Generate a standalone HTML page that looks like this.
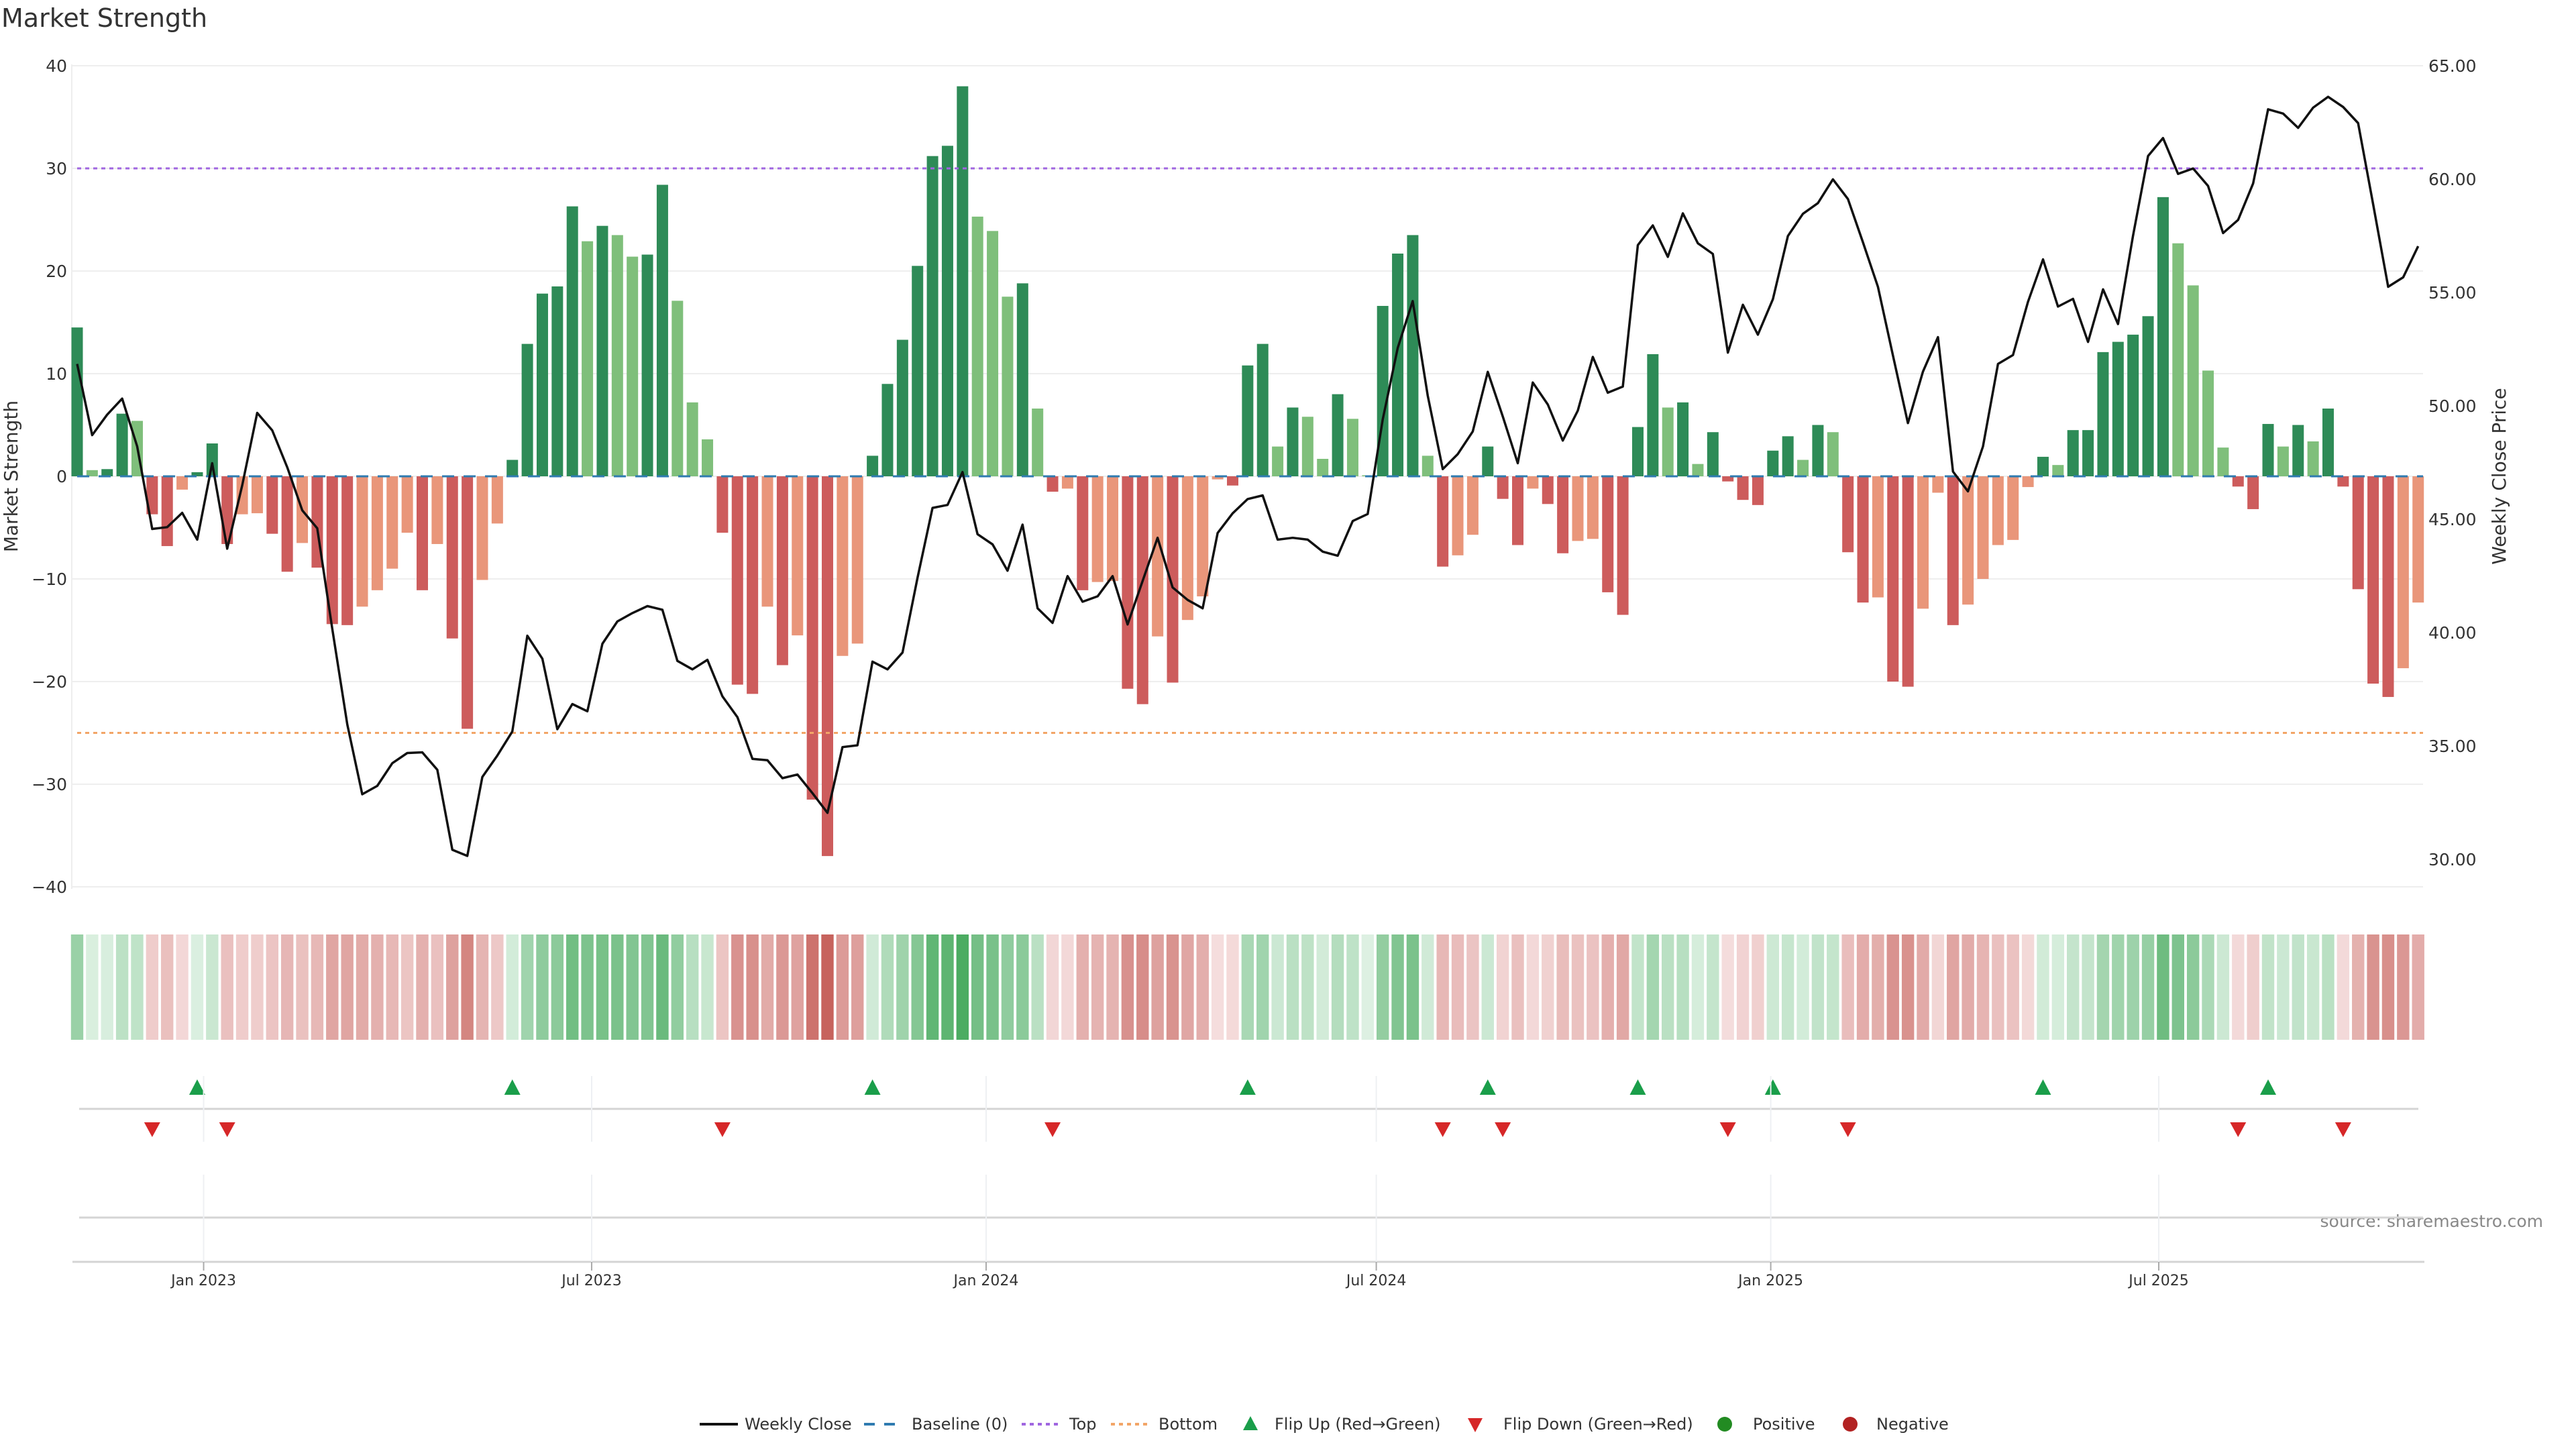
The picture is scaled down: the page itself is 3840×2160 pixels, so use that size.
<!DOCTYPE html>
<html><head><meta charset="utf-8"><style>
html,body{margin:0;padding:0;background:#fff;}
svg{display:block;font-family:"DejaVu Sans","Liberation Sans",sans-serif;}
</style></head><body>
<svg id="chart" width="3840" height="2160" viewBox="0 0 3840 2160" xmlns="http://www.w3.org/2000/svg">
<text x="2" y="40" font-size="38" fill="#333">Market Strength</text>
<text transform="translate(26,710) rotate(-90)" text-anchor="middle" font-size="28" fill="#333">Market Strength</text>
<text transform="translate(3735,710) rotate(-90)" text-anchor="middle" font-size="28" fill="#333">Weekly Close Price</text>
<text x="3791" y="1829" text-anchor="end" font-size="25" fill="#888">source: sharemaestro.com</text>
<g id="grid"></g><g id="bars"></g><g id="refs"></g><g id="line"></g><g id="strip"></g><g id="flips"></g><g id="xaxis"></g><g id="legend"></g>
</svg>
<script>
const strength = [14.5,0.6,0.7,6.1,5.4,-3.7,-6.8,-1.3,0.4,3.2,-6.6,-3.7,-3.6,-5.6,-9.3,-6.5,-8.9,-14.4,-14.5,-12.7,-11.1,-9.0,-5.5,-11.1,-6.6,-15.8,-24.6,-10.1,-4.6,1.6,12.9,17.8,18.5,26.3,22.9,24.4,23.5,21.4,21.6,28.4,17.1,7.2,3.6,-5.5,-20.3,-21.2,-12.7,-18.4,-15.5,-31.5,-37.0,-17.5,-16.3,2.0,9.0,13.3,20.5,31.2,32.2,38.0,25.3,23.9,17.5,18.8,6.6,-1.5,-1.2,-11.1,-10.3,-10.2,-20.7,-22.2,-15.6,-20.1,-14.0,-11.7,-0.3,-0.9,10.8,12.9,2.9,6.7,5.8,1.7,8.0,5.6,0.1,16.6,21.7,23.5,2.0,-8.8,-7.7,-5.7,2.9,-2.2,-6.7,-1.2,-2.7,-7.5,-6.3,-6.1,-11.3,-13.5,4.8,11.9,6.7,7.2,1.2,4.3,-0.5,-2.3,-2.8,2.5,3.9,1.6,5.0,4.3,-7.4,-12.3,-11.8,-20.0,-20.5,-12.9,-1.6,-14.5,-12.5,-10.0,-6.7,-6.2,-1.05,1.9,1.1,4.5,4.5,12.1,13.1,13.8,15.6,27.2,22.7,18.6,10.3,2.8,-1.0,-3.2,5.1,2.9,5.0,3.4,6.6,-1.0,-11.0,-20.2,-21.5,-18.7,-12.3];
const weeklyClose = [51.85,48.71,49.61,50.32,48.21,44.57,44.65,45.28,44.1,47.47,43.7,46.5,49.69,48.92,47.29,45.39,44.6,40.17,35.95,32.87,33.24,34.24,34.69,34.72,33.95,30.42,30.15,33.63,34.58,35.64,39.86,38.85,35.74,36.85,36.53,39.51,40.49,40.86,41.17,41.01,38.75,38.38,38.8,37.19,36.27,34.43,34.37,33.58,33.74,32.92,32.05,34.95,35.03,38.72,38.38,39.12,42.41,45.5,45.63,47.08,44.34,43.89,42.73,44.76,41.07,40.43,42.49,41.36,41.6,42.49,40.36,42.28,44.18,41.99,41.44,41.07,44.39,45.26,45.89,46.05,44.1,44.18,44.1,43.57,43.39,44.92,45.23,49.4,52.56,54.62,50.45,47.21,47.87,48.87,51.5,49.53,47.47,51.03,50.06,48.47,49.79,52.16,50.58,50.85,57.09,57.96,56.57,58.49,57.17,56.7,52.35,54.46,53.14,54.7,57.49,58.47,58.94,59.99,59.12,57.22,55.25,52.22,49.24,51.51,53.03,47.1,46.23,48.21,51.85,52.24,54.59,56.46,54.38,54.72,52.82,55.14,53.61,57.51,61.02,61.81,60.23,60.47,59.7,57.62,58.2,59.81,63.08,62.89,62.26,63.15,63.63,63.18,62.47,58.89,55.25,55.67,57.04];
const leftTicks = [40,30,20,10,0,-10,-20,-30,-40];
const leftTickLabels = ["40","30","20","10","0","\u221210","\u221220","\u221230","\u221240"];
const rightTicks = [65,60,55,50,45,40,35,30];
const rightTickLabels = ["65.00","60.00","55.00","50.00","45.00","40.00","35.00","30.00"];
const monthTicks = [[2023,0],[2023,6],[2024,0],[2024,6],[2025,0],[2025,6]];
const monthTickLabels = ["Jan 2023","Jul 2023","Jan 2024","Jul 2024","Jan 2025","Jul 2025"];
const topLevel = 30;
const bottomLevel = -25;
const startDate = Date.UTC(2022,10,3);

const NS="http://www.w3.org/2000/svg";
const X0=115, STEP=22.37, XR=3612;
const xi = i => X0 + i*STEP;
const xd = t => X0 + ((t-startDate)/86400000/7)*STEP;
const yL = v => 710 - v*15.3;
const yR = p => 98 + (65-p)*33.8;
function mk(tag, attrs, parent){const e=document.createElementNS(NS,tag);for(const k in attrs)e.setAttribute(k,attrs[k]);parent.appendChild(e);return e;}
const G = id => document.getElementById(id);

// grid + ticks
const grid=G('grid');
leftTicks.forEach((v,k)=>{
  const l=mk('line',{x1:107,x2:XR,y1:yL(v),y2:yL(v),stroke:'#eeeeee','stroke-width':2},grid);
  
  
  const t=mk('text',{x:100,y:yL(v)+9,'text-anchor':'end','font-size':25,fill:'#333'},grid);
  t.textContent=leftTickLabels[k];
  
  
});
rightTicks.forEach((p,k)=>{
  const t=mk('text',{x:3620,y:yR(p)+9,'font-size':25,fill:'#333'},grid);
  t.textContent=rightTickLabels[k];
  
  
});
const ax=mk('line',{x1:107,x2:107,y1:96,y2:1325,stroke:'#eeeeee','stroke-width':2},grid);



// bars
const bars=G('bars');
strength.forEach((v,i)=>{
  const prev=i>0?strength[i-1]:0;
  let c;
  if(v>=0) c=(v>=prev)?'#2e8b57':'#7fbf7b'; else c=(v<=prev)?'#cd5c5c':'#e9967a';
  const y0=yL(0), y1=yL(v);
  const r=mk('rect',{x:xi(i)-8.5,y:Math.min(y0,y1),width:17,height:Math.max(1,Math.abs(y1-y0)),fill:c},bars);
  
  
});

// reference lines
const refs=G('refs');
let r1=mk('line',{x1:115,x2:XR,y1:yL(0),y2:yL(0),stroke:'#2f7bb0','stroke-width':3,'stroke-dasharray':'18 14'},refs);


let r2=mk('line',{x1:115,x2:XR,y1:yL(topLevel),y2:yL(topLevel),stroke:'#a066e0','stroke-width':3,'stroke-dasharray':'6 6'},refs);


let r3=mk('line',{x1:115,x2:XR,y1:yL(bottomLevel),y2:yL(bottomLevel),stroke:'#f2a567','stroke-width':3,'stroke-dasharray':'6 6'},refs);



// close line
const pts=weeklyClose.map((p,i)=>xi(i).toFixed(1)+','+yR(p).toFixed(1)).join(' ');
const pl=mk('polyline',{points:pts,fill:'none',stroke:'#111','stroke-width':3.5,'stroke-linejoin':'round'},G('line'));



// heat strip
function mix(a,b,t){return 'rgb('+a.map((x,k)=>Math.round(x+(b[k]-x)*t)).join(',')+')';}
const strip=G('strip');
strength.forEach((v,i)=>{
  const t=Math.min(1,Math.abs(v)/38);
  const c=v>=0?mix([222,241,227],[76,172,98],Math.pow(t,0.8)):mix([246,224,224],[198,96,90],Math.pow(t,0.8));
  const r=mk('rect',{x:xi(i)-9.2,y:1393,width:18.4,height:157,fill:c},strip);
  
  
});

// panels + flips
const fl=G('flips');
let pl1=mk('line',{x1:118,x2:3605,y1:1653,y2:1653,stroke:'#d4d4d4','stroke-width':3},fl);


let pl2=mk('line',{x1:118,x2:3612,y1:1815,y2:1815,stroke:'#d4d4d4','stroke-width':3},fl);


for(let i=1;i<strength.length;i++){
  const a=strength[i-1], b=strength[i], x=xi(i);
  if(a<0 && b>=0){
    const t=mk('polygon',{points:`${x},1609 ${x-12},1632 ${x+12},1632`,fill:'#1a9e4a'},fl);
    
    
  } else if(a>=0 && b<0){
    const t=mk('polygon',{points:`${x-12},1673 ${x+12},1673 ${x},1695`,fill:'#d62728'},fl);
    
    
  }
}

// x axis
const xa=G('xaxis');
let bl=mk('line',{x1:108,x2:3614,y1:1881,y2:1881,stroke:'#d4d4d4','stroke-width':3},xa);


monthTicks.forEach((m,k)=>{
  const x=xd(Date.UTC(m[0],m[1],1));
  const g1=mk('line',{x1:x,x2:x,y1:1604,y2:1702,stroke:'#eef0f3','stroke-width':2},xa);
  
  
  const g2=mk('line',{x1:x,x2:x,y1:1751,y2:1881,stroke:'#eef0f3','stroke-width':2},xa);
  
  
  const tk=mk('line',{x1:x,x2:x,y1:1881,y2:1894,stroke:'#aaa','stroke-width':2},xa);
  
  
  const t=mk('text',{x:x,y:1916,'text-anchor':'middle','font-size':22,fill:'#333'},xa);
  t.textContent=monthTickLabels[k];
  
  
});

// legend
const lg=G('legend'); const LY=2123;
function ltext(x,s){const t=mk('text',{x:x,y:LY+8,'font-size':24,fill:'#333'},lg);t.textContent=s;}
let e;
e=mk('line',{x1:1043,x2:1100,y1:LY,y2:LY,stroke:'#111','stroke-width':4},lg);
ltext(1110,'Weekly Close');
e=mk('line',{x1:1288,x2:1347,y1:LY,y2:LY,stroke:'#2f7bb0','stroke-width':4,'stroke-dasharray':'16 14'},lg);
ltext(1359,'Baseline (0)');
e=mk('line',{x1:1523,x2:1582,y1:LY,y2:LY,stroke:'#a066e0','stroke-width':4,'stroke-dasharray':'6 6'},lg);
ltext(1594,'Top');
e=mk('line',{x1:1656,x2:1714,y1:LY,y2:LY,stroke:'#f2a567','stroke-width':4,'stroke-dasharray':'6 6'},lg);
ltext(1727,'Bottom');
e=mk('polygon',{points:`1864,${LY-12} 1853,${LY+9} 1875,${LY+9}`,fill:'#1a9e4a'},lg);
ltext(1900,'Flip Up (Red\u2192Green)');
e=mk('polygon',{points:`2188,${LY-9} 2210,${LY-9} 2199,${LY+12}`,fill:'#d62728'},lg);
ltext(2241,'Flip Down (Green\u2192Red)');
e=mk('circle',{cx:2571,cy:LY,r:11,fill:'#228b22'},lg);
ltext(2613,'Positive');
e=mk('circle',{cx:2758,cy:LY,r:11,fill:'#b22222'},lg);
ltext(2797,'Negative');
</script>
</body></html>
